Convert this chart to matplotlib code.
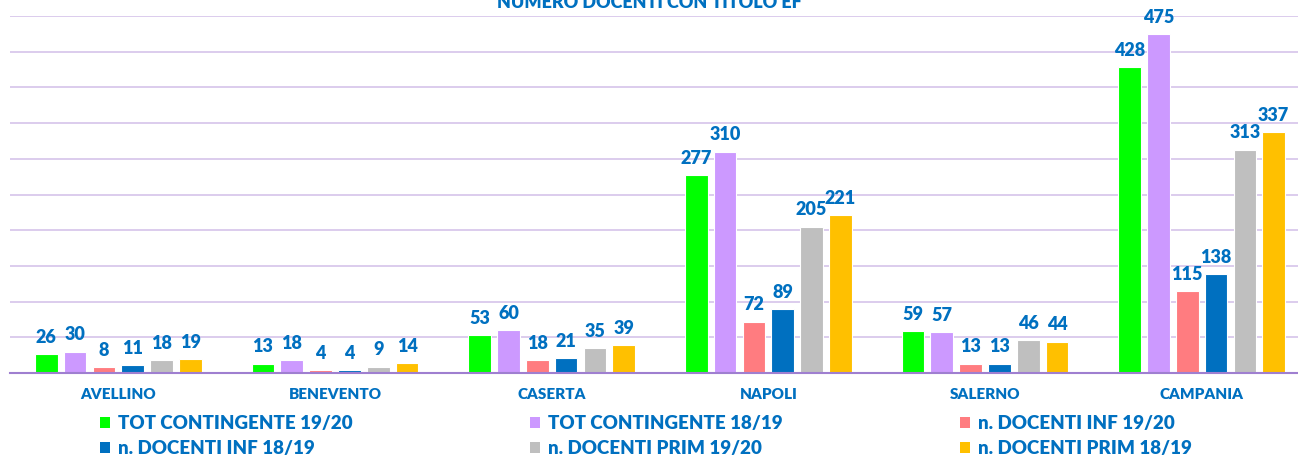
import matplotlib
matplotlib.use("Agg")
import matplotlib.pyplot as plt
from matplotlib.patches import Patch
import numpy as np

categories = ["AVELLINO", "BENEVENTO", "CASERTA", "NAPOLI", "SALERNO", "CAMPANIA"]
series_names = ["TOT CONTINGENTE 19/20", "TOT CONTINGENTE 18/19", "n. DOCENTI INF 19/20",
                "n. DOCENTI INF 18/19", "n. DOCENTI PRIM 19/20", "n. DOCENTI PRIM 18/19"]
tot_19_20 = [26, 13, 53, 277, 59, 428]
tot_18_19 = [30, 18, 60, 310, 57, 475]
inf_19_20 = [8, 4, 18, 72, 13, 115]
inf_18_19 = [11, 4, 21, 89, 13, 138]
prim_19_20 = [18, 9, 35, 205, 46, 313]
prim_18_19 = [19, 14, 39, 221, 44, 337]
series = [tot_19_20, tot_18_19, inf_19_20, inf_18_19, prim_19_20, prim_18_19]
colors = ["#00FF00", "#CC99FF", "#FF7C80", "#0070C0", "#BFBFBF", "#FFC000"]
title = "NUMERO DOCENTI CON TITOLO EF"

blue = "#0070C0"
plt.rcParams['font.family'] = ['Lato', 'DejaVu Sans']

fig = plt.figure(figsize=(12.98, 4.57), dpi=100)
ax = fig.add_axes([10/1298, (457-373)/457, 1300/1298, (373-16)/457])

x = np.arange(len(categories))
step = 0.133
width = 0.105
for i, (vals, c) in enumerate(zip(series, colors)):
    pos = x + (i - 2.5) * step
    bars = ax.bar(pos, vals, width=width, color=c, edgecolor="white", linewidth=0.8, zorder=3)
    for b, v in zip(bars, vals):
        ax.annotate(str(v), (b.get_x() + b.get_width()/2, v), xytext=(0, 6),
                    textcoords="offset points", ha="center", va="bottom",
                    color=blue, fontsize=13, fontweight="heavy", zorder=4)

ax.set_xlim(-0.5, len(categories) - 0.5)
ax.set_ylim(0, 500)
ax.set_yticks(np.arange(0, 501, 50))
ax.yaxis.grid(True, color="#D5C3EA", linewidth=1.2, zorder=0)
ax.tick_params(axis="y", length=0, labelleft=False)
ax.set_xticks(x)
ax.set_xticklabels(categories, color=blue, fontsize=11, fontweight="heavy")
ax.tick_params(axis="x", length=0, pad=11)
for s in ["top", "right", "left"]:
    ax.spines[s].set_visible(False)
ax.spines["bottom"].set_color("#9F7FD0")
ax.spines["bottom"].set_linewidth(1.5)
ax.spines["bottom"].set_zorder(5)

fig.text(0.5, 1 - 3/457, title, ha="center", va="center", color=blue, fontsize=13, fontweight="heavy")

cols = [[0, 3], [1, 4], [2, 5]]
xs = [100, 530, 960]
for cx, idxs in zip(xs, cols):
    handles = [Patch(facecolor=colors[i], edgecolor="none") for i in idxs]
    labels = [series_names[i] for i in idxs]
    leg = fig.legend(handles, labels, loc="upper left",
                     bbox_to_anchor=(cx/1298, 1 - 415/457), frameon=False,
                     prop={"size": 13.5, "weight": "heavy"}, handlelength=0.55, handleheight=0.55,
                     handletextpad=0.4, labelspacing=0.42, borderpad=0, borderaxespad=0)
    for t in leg.get_texts():
        t.set_color(blue)

fig.savefig("out.png", dpi=100)
